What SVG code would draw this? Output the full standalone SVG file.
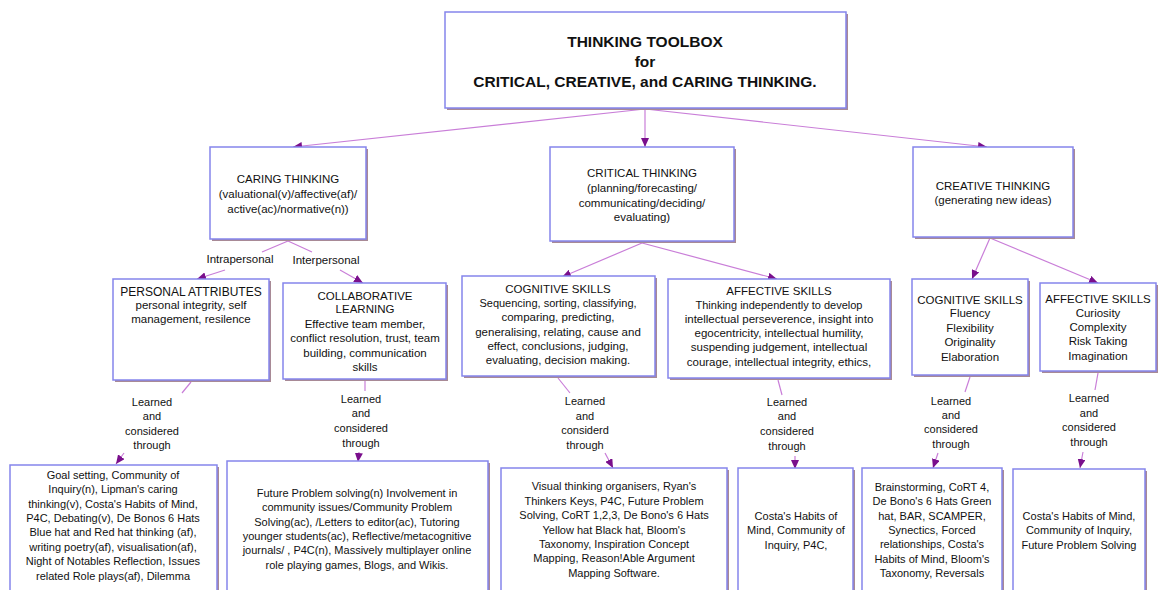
<svg xmlns="http://www.w3.org/2000/svg" width="1158" height="590" viewBox="0 0 1158 590">
<defs>
<style>
.bg{fill:#ffffff}
.sh{fill:#a88a96}
.bx{fill:#ffffff;stroke:#8585ec;stroke-width:1.5}
.t{font-family:"Liberation Sans",Arial,sans-serif;font-size:11.5px;fill:#111;text-anchor:middle}
.tb{font-family:"Liberation Sans",Arial,sans-serif;font-size:15.5px;font-weight:bold;fill:#111;text-anchor:middle}
.s{font-family:"Liberation Sans",Arial,sans-serif;font-size:11px;fill:#111;text-anchor:middle}
.ln{stroke:#c97ed8;stroke-width:1.2;fill:none}
.ar{stroke:#c97ed8;stroke-width:1.2;fill:none;marker-end:url(#ah)}
</style>
<marker id="ah" markerUnits="userSpaceOnUse" markerWidth="10" markerHeight="8" refX="9" refY="4" orient="auto">
<path d="M0,0 L9,4 L0,8 Z" fill="#7a0f8c"/>
</marker>
</defs>
<rect class="bg" x="0" y="0" width="1158" height="590"/>

<g id="connectors">
<line class="ar" x1="645" y1="109" x2="293" y2="147"/>
<line class="ar" x1="645" y1="109" x2="645" y2="147"/>
<line class="ar" x1="645" y1="109" x2="987" y2="147"/>

<line class="ln" x1="288" y1="241" x2="262" y2="252"/>
<text class="t" x="240" y="263">Intrapersonal</text>
<line class="ar" x1="225" y1="270" x2="197" y2="279"/>
<line class="ln" x1="288" y1="241" x2="312" y2="252"/>
<text class="t" x="326" y="264">Interpersonal</text>
<line class="ar" x1="340" y1="270" x2="363" y2="283"/>

<line class="ar" x1="642" y1="243" x2="562" y2="277"/>
<line class="ar" x1="642" y1="243" x2="777" y2="279"/>

<line class="ar" x1="990" y1="238" x2="972" y2="279"/>
<line class="ar" x1="990" y1="238" x2="1098" y2="283"/>

<line class="ln" x1="191" y1="382" x2="182" y2="393"/>
<text class="s" x="152" y="406">Learned</text>
<text class="s" x="152" y="420">and</text>
<text class="s" x="152" y="435">considered</text>
<text class="s" x="152" y="449">through</text>
<line class="ar" x1="124" y1="453" x2="116" y2="464"/>

<line class="ln" x1="365" y1="381" x2="365" y2="391"/>
<text class="s" x="361" y="403">Learned</text>
<text class="s" x="361" y="417">and</text>
<text class="s" x="361" y="432">considered</text>
<text class="s" x="361" y="447">through</text>
<line class="ar" x1="359" y1="452" x2="358" y2="462"/>

<line class="ln" x1="558" y1="378" x2="570" y2="393"/>
<text class="s" x="585" y="405">Learned</text>
<text class="s" x="585" y="420">and</text>
<text class="s" x="585" y="434">considerd</text>
<text class="s" x="585" y="449">through</text>
<line class="ar" x1="605" y1="453" x2="613" y2="468"/>

<line class="ln" x1="778" y1="380" x2="782" y2="395"/>
<text class="s" x="787" y="406">Learned</text>
<text class="s" x="787" y="420">and</text>
<text class="s" x="787" y="435">considered</text>
<text class="s" x="787" y="450">through</text>
<line class="ar" x1="795" y1="456" x2="795" y2="469"/>

<line class="ln" x1="970" y1="377" x2="965" y2="392"/>
<text class="s" x="951" y="405">Learned</text>
<text class="s" x="951" y="419">and</text>
<text class="s" x="951" y="433">considered</text>
<text class="s" x="951" y="448">through</text>
<line class="ar" x1="938" y1="453" x2="933" y2="468"/>

<line class="ln" x1="1098" y1="373" x2="1095" y2="390"/>
<text class="s" x="1089" y="402">Learned</text>
<text class="s" x="1089" y="417">and</text>
<text class="s" x="1089" y="431">considered</text>
<text class="s" x="1089" y="446">through</text>
<line class="ar" x1="1083" y1="452" x2="1080" y2="468"/>
</g>

<g id="toolbox">
<rect class="sh" x="447" y="14" width="401" height="96"/>
<rect class="bx" x="445" y="12" width="401" height="96"/>
<text class="tb" x="645" y="47">THINKING TOOLBOX</text>
<text class="tb" x="645" y="67">for</text>
<text class="tb" x="645" y="87">CRITICAL, CREATIVE, and CARING THINKING.</text>
</g>

<g id="caring">
<rect class="sh" x="212" y="149" width="156" height="92"/>
<rect class="bx" x="210" y="147" width="156" height="92"/>
<text class="t" x="288" y="183">CARING THINKING</text>
<text class="t" x="288" y="198">(valuational(v)/affective(af)/</text>
<text class="t" x="288" y="213">active(ac)/normative(n))</text>
</g>

<g id="critical">
<rect class="sh" x="552" y="149" width="184" height="94"/>
<rect class="bx" x="550" y="147" width="184" height="94"/>
<text class="t" x="642" y="177">CRITICAL THINKING</text>
<text class="t" x="642" y="192">(planning/forecasting/</text>
<text class="t" x="642" y="207">communicating/deciding/</text>
<text class="t" x="642" y="221">evaluating)</text>
</g>

<g id="creative">
<rect class="sh" x="915" y="149" width="160" height="90"/>
<rect class="bx" x="913" y="147" width="160" height="90"/>
<text class="t" x="993" y="190">CREATIVE THINKING</text>
<text class="t" x="993" y="204">(generating new ideas)</text>
</g>

<g id="personal">
<rect class="sh" x="115" y="281" width="156" height="101"/>
<rect class="bx" x="113" y="279" width="156" height="101"/>
<text class="t" x="191" y="296" style="font-size:12px">PERSONAL ATTRIBUTES</text>
<text class="t" x="191" y="309">personal integrity, self</text>
<text class="t" x="191" y="323">management, resilence</text>
</g>

<g id="collaborative">
<rect class="sh" x="285" y="285" width="163" height="96"/>
<rect class="bx" x="283" y="283" width="163" height="96"/>
<text class="t" x="365" y="300">COLLABORATIVE</text>
<text class="t" x="365" y="313">LEARNING</text>
<text class="t" x="365" y="328">Effective team member,</text>
<text class="t" x="365" y="342">conflict resolution, trust, team</text>
<text class="t" x="365" y="357">building, communication</text>
<text class="t" x="365" y="371">skills</text>
</g>

<g id="critical-cognitive">
<rect class="sh" x="464" y="278" width="193" height="100"/>
<rect class="bx" x="462" y="276" width="193" height="100"/>
<text class="t" x="558" y="293">COGNITIVE SKILLS</text>
<text class="s" x="558" y="307">Sequencing, sorting, classifying,</text>
<text class="t" x="558" y="321">comparing, predicting,</text>
<text class="t" x="558" y="336">generalising, relating, cause and</text>
<text class="t" x="558" y="350">effect, conclusions, judging,</text>
<text class="t" x="558" y="364">evaluating, decision making.</text>
</g>

<g id="critical-affective">
<rect class="sh" x="670" y="281" width="222" height="99"/>
<rect class="bx" x="668" y="279" width="222" height="99"/>
<text class="t" x="779" y="295">AFFECTIVE SKILLS</text>
<text class="s" x="779" y="309">Thinking independently to develop</text>
<text class="t" x="779" y="323">intellectual perseverence, insight into</text>
<text class="t" x="779" y="337">egocentricity, intellectual humility,</text>
<text class="t" x="779" y="351">suspending judgement, intellectual</text>
<text class="t" x="779" y="366">courage, intellectual integrity, ethics,</text>
</g>

<g id="creative-cognitive">
<rect class="sh" x="914" y="281" width="116" height="96"/>
<rect class="bx" x="912" y="279" width="116" height="96"/>
<text class="t" x="970" y="304">COGNITIVE SKILLS</text>
<text class="t" x="970" y="317">Fluency</text>
<text class="t" x="970" y="332">Flexibility</text>
<text class="t" x="970" y="346">Originality</text>
<text class="t" x="970" y="361">Elaboration</text>
</g>

<g id="creative-affective">
<rect class="sh" x="1042" y="285" width="116" height="88"/>
<rect class="bx" x="1040" y="283" width="116" height="88"/>
<text class="t" x="1098" y="303">AFFECTIVE SKILLS</text>
<text class="t" x="1098" y="317">Curiosity</text>
<text class="t" x="1098" y="331">Complexity</text>
<text class="t" x="1098" y="345">Risk Taking</text>
<text class="t" x="1098" y="360">Imagination</text>
</g>

<g id="caring-personal-methods">
<rect class="sh" x="12" y="467" width="207" height="140"/>
<rect class="bx" x="10" y="465" width="207" height="140"/>
<text class="s" x="113" y="479">Goal setting, Community of</text>
<text class="s" x="113" y="493">Inquiry(n),  Lipman's caring</text>
<text class="s" x="113" y="508">thinking(v), Costa's Habits of Mind,</text>
<text class="s" x="113" y="522">P4C, Debating(v), De Bonos 6 Hats</text>
<text class="s" x="113" y="536">Blue hat and Red hat thinking (af),</text>
<text class="s" x="113" y="551">writing poetry(af), visualisation(af),</text>
<text class="s" x="113" y="565">Night of Notables Reflection, Issues</text>
<text class="s" x="113" y="580">related Role plays(af), Dilemma</text>
</g>

<g id="caring-collab-methods">
<rect class="sh" x="229" y="463" width="261" height="140"/>
<rect class="bx" x="227" y="461" width="261" height="140"/>
<text class="s" x="357" y="497">Future Problem solving(n) Involvement  in</text>
<text class="s" x="357" y="511">community issues/Community Problem</text>
<text class="s" x="357" y="526">Solving(ac), /Letters to editor(ac), Tutoring</text>
<text class="s" x="357" y="540">younger students(ac), Reflective/metacognitive</text>
<text class="s" x="357" y="554">journals/ , P4C(n), Massively multiplayer online</text>
<text class="s" x="357" y="569">role playing games, Blogs, and Wikis.</text>
</g>

<g id="critical-cognitive-methods">
<rect class="sh" x="503" y="470" width="226" height="140"/>
<rect class="bx" x="501" y="468" width="226" height="140"/>
<text class="s" x="614" y="490">Visual thinking organisers, Ryan's</text>
<text class="s" x="614" y="505">Thinkers Keys, P4C, Future Problem</text>
<text class="s" x="614" y="519">Solving, CoRT 1,2,3, De Bono's 6 Hats</text>
<text class="s" x="614" y="534">Yellow hat Black hat, Bloom's</text>
<text class="s" x="614" y="548">Taxonomy, Inspiration Concept</text>
<text class="s" x="614" y="562">Mapping, Reason!Able Argument</text>
<text class="s" x="614" y="577">Mapping Software.</text>
</g>

<g id="critical-affective-methods">
<rect class="sh" x="740" y="470" width="115" height="140"/>
<rect class="bx" x="738" y="468" width="115" height="140"/>
<text class="s" x="796" y="520">Costa's Habits of</text>
<text class="s" x="796" y="534">Mind, Community of</text>
<text class="s" x="796" y="549">Inquiry, P4C,</text>
</g>

<g id="creative-cognitive-methods">
<rect class="sh" x="864" y="470" width="140" height="140"/>
<rect class="bx" x="862" y="468" width="140" height="140"/>
<text class="s" x="932" y="491">Brainstorming, CoRT 4,</text>
<text class="s" x="932" y="505">De Bono's 6 Hats Green</text>
<text class="s" x="932" y="520">hat, BAR, SCAMPER,</text>
<text class="s" x="932" y="534">Synectics, Forced</text>
<text class="s" x="932" y="548">relationships, Costa's</text>
<text class="s" x="932" y="563">Habits of Mind, Bloom's</text>
<text class="s" x="932" y="577">Taxonomy, Reversals</text>
</g>

<g id="creative-affective-methods">
<rect class="sh" x="1015" y="471" width="132" height="140"/>
<rect class="bx" x="1013" y="469" width="132" height="140"/>
<text class="s" x="1079" y="520">Costa's Habits of Mind,</text>
<text class="s" x="1079" y="534">Community of Inquiry,</text>
<text class="s" x="1079" y="549">Future Problem Solving</text>
</g>
</svg>
